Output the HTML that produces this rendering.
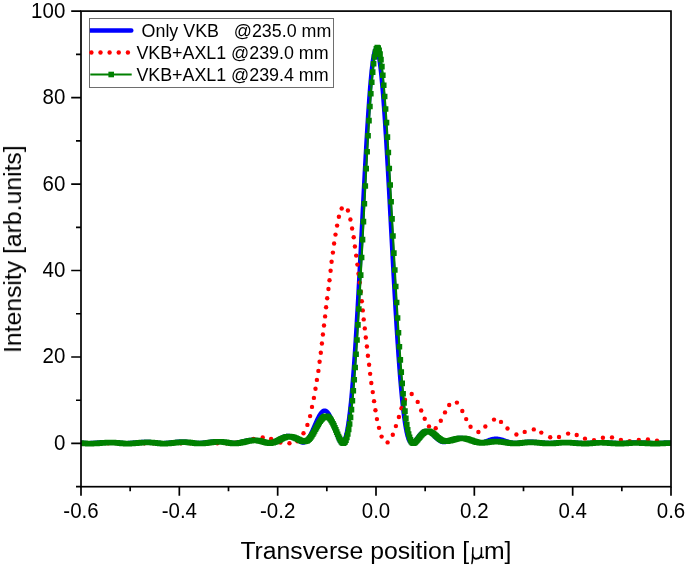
<!DOCTYPE html>
<html><head><meta charset="utf-8"><title>chart</title>
<style>
html,body{margin:0;padding:0;background:#fff;}
svg{display:block;will-change:transform;}
.tx{filter:grayscale(1);}
text{font-family:"Liberation Sans",sans-serif;fill:#000;}
</style></head><body>
<svg width="685" height="567" viewBox="0 0 685 567">
<rect width="685" height="567" fill="#fff"/>
<defs><clipPath id="cp"><rect x="81.0" y="11.1" width="590.0" height="475.59999999999997"/></clipPath></defs>
<g clip-path="url(#cp)">
<path d="M81.00,442.72 L81.49,442.75 L81.98,442.79 L82.47,442.83 L82.97,442.87 L83.46,442.91 L83.95,442.94 L84.44,442.97 L84.93,443.01 L85.43,443.03 L85.92,443.06 L86.41,443.08 L86.90,443.10 L87.39,443.11 L87.88,443.12 L88.38,443.12 L88.87,443.11 L89.36,443.11 L89.85,443.10 L90.34,443.09 L90.83,443.07 L91.33,443.06 L91.82,443.04 L92.31,443.02 L92.80,443.00 L93.29,442.97 L93.78,442.94 L94.28,442.91 L94.77,442.88 L95.26,442.85 L95.75,442.82 L96.24,442.79 L96.73,442.75 L97.23,442.71 L97.72,442.68 L98.21,442.64 L98.70,442.60 L99.19,442.56 L99.68,442.52 L100.18,442.49 L100.67,442.45 L101.16,442.41 L101.65,442.38 L102.14,442.34 L102.63,442.31 L103.13,442.28 L103.62,442.25 L104.11,442.22 L104.60,442.19 L105.09,442.17 L105.58,442.15 L106.08,442.13 L106.57,442.11 L107.06,442.10 L107.55,442.09 L108.04,442.08 L108.53,442.08 L109.03,442.08 L109.52,442.08 L110.01,442.09 L110.50,442.10 L110.99,442.11 L111.48,442.13 L111.98,442.15 L112.47,442.17 L112.96,442.19 L113.45,442.22 L113.94,442.25 L114.43,442.29 L114.93,442.32 L115.42,442.36 L115.91,442.40 L116.40,442.44 L116.89,442.49 L117.38,442.53 L117.87,442.58 L118.37,442.63 L118.86,442.67 L119.35,442.72 L119.84,442.77 L120.33,442.81 L120.82,442.86 L121.32,442.90 L121.81,442.94 L122.30,442.98 L122.79,443.02 L123.28,443.05 L123.77,443.07 L124.27,443.10 L124.76,443.11 L125.25,443.12 L125.74,443.12 L126.23,443.11 L126.72,443.10 L127.22,443.09 L127.71,443.08 L128.20,443.06 L128.69,443.04 L129.18,443.02 L129.68,443.00 L130.17,442.97 L130.66,442.94 L131.15,442.91 L131.64,442.88 L132.13,442.84 L132.62,442.80 L133.12,442.76 L133.61,442.72 L134.10,442.68 L134.59,442.63 L135.08,442.59 L135.57,442.55 L136.07,442.50 L136.56,442.46 L137.05,442.41 L137.54,442.37 L138.03,442.32 L138.53,442.28 L139.02,442.24 L139.51,442.20 L140.00,442.16 L140.49,442.12 L140.98,442.09 L141.47,442.06 L141.97,442.03 L142.46,442.00 L142.95,441.98 L143.44,441.96 L143.93,441.94 L144.43,441.93 L144.92,441.92 L145.41,441.91 L145.90,441.91 L146.39,441.91 L146.88,441.91 L147.38,441.92 L147.87,441.94 L148.36,441.95 L148.85,441.97 L149.34,442.00 L149.83,442.03 L150.33,442.06 L150.82,442.10 L151.31,442.14 L151.80,442.18 L152.29,442.22 L152.78,442.27 L153.28,442.32 L153.77,442.37 L154.26,442.42 L154.75,442.48 L155.24,442.53 L155.73,442.59 L156.23,442.65 L156.72,442.70 L157.21,442.76 L157.70,442.81 L158.19,442.86 L158.68,442.91 L159.18,442.95 L159.67,443.00 L160.16,443.03 L160.65,443.06 L161.14,443.09 L161.63,443.11 L162.13,443.12 L162.62,443.11 L163.11,443.11 L163.60,443.10 L164.09,443.08 L164.58,443.06 L165.08,443.04 L165.57,443.01 L166.06,442.98 L166.55,442.95 L167.04,442.91 L167.53,442.87 L168.02,442.83 L168.52,442.79 L169.01,442.74 L169.50,442.69 L169.99,442.64 L170.48,442.59 L170.97,442.53 L171.47,442.48 L171.96,442.42 L172.45,442.36 L172.94,442.31 L173.43,442.25 L173.93,442.20 L174.42,442.14 L174.91,442.09 L175.40,442.04 L175.89,441.99 L176.38,441.94 L176.88,441.89 L177.37,441.85 L177.86,441.81 L178.35,441.78 L178.84,441.75 L179.33,441.72 L179.82,441.70 L180.32,441.68 L180.81,441.66 L181.30,441.65 L181.79,441.65 L182.28,441.65 L182.78,441.65 L183.27,441.66 L183.76,441.68 L184.25,441.70 L184.74,441.72 L185.23,441.75 L185.72,441.79 L186.22,441.83 L186.71,441.87 L187.20,441.92 L187.69,441.97 L188.18,442.03 L188.68,442.08 L189.17,442.14 L189.66,442.21 L190.15,442.27 L190.64,442.34 L191.13,442.40 L191.62,442.47 L192.12,442.54 L192.61,442.60 L193.10,442.66 L193.59,442.73 L194.08,442.78 L194.57,442.84 L195.07,442.89 L195.56,442.93 L196.05,442.97 L196.54,443.00 L197.03,443.02 L197.53,443.03 L198.02,443.03 L198.51,443.02 L199.00,443.01 L199.49,442.99 L199.98,442.97 L200.48,442.95 L200.97,442.92 L201.46,442.88 L201.95,442.85 L202.44,442.80 L202.93,442.76 L203.43,442.71 L203.92,442.66 L204.41,442.60 L204.90,442.54 L205.39,442.48 L205.88,442.42 L206.38,442.36 L206.87,442.29 L207.36,442.23 L207.85,442.16 L208.34,442.09 L208.83,442.02 L209.33,441.96 L209.82,441.89 L210.31,441.83 L210.80,441.77 L211.29,441.71 L211.78,441.65 L212.28,441.60 L212.77,441.55 L213.26,441.50 L213.75,441.46 L214.24,441.42 L214.73,441.39 L215.23,441.36 L215.72,441.34 L216.21,441.32 L216.70,441.31 L217.19,441.30 L217.68,441.30 L218.18,441.31 L218.67,441.32 L219.16,441.34 L219.65,441.37 L220.14,441.40 L220.63,441.43 L221.13,441.48 L221.62,441.52 L222.11,441.58 L222.60,441.64 L223.09,441.70 L223.58,441.77 L224.07,441.84 L224.57,441.91 L225.06,441.99 L225.55,442.07 L226.04,442.15 L226.53,442.23 L227.03,442.32 L227.52,442.40 L228.01,442.48 L228.50,442.56 L228.99,442.64 L229.48,442.71 L229.97,442.78 L230.47,442.85 L230.96,442.90 L231.45,442.95 L231.94,442.99 L232.43,443.02 L232.93,443.03 L233.42,443.02 L233.91,443.01 L234.40,442.98 L234.89,442.95 L235.38,442.91 L235.88,442.86 L236.37,442.80 L236.86,442.74 L237.35,442.66 L237.84,442.59 L238.33,442.50 L238.83,442.41 L239.32,442.31 L239.81,442.20 L240.30,442.10 L240.79,441.98 L241.28,441.87 L241.78,441.75 L242.27,441.63 L242.76,441.51 L243.25,441.38 L243.74,441.26 L244.23,441.13 L244.73,441.01 L245.22,440.89 L245.71,440.78 L246.20,440.66 L246.69,440.55 L247.18,440.45 L247.68,440.35 L248.17,440.26 L248.66,440.17 L249.15,440.09 L249.64,440.02 L250.13,439.96 L250.63,439.91 L251.12,439.86 L251.61,439.83 L252.10,439.80 L252.59,439.79 L253.08,439.79 L253.58,439.80 L254.07,439.82 L254.56,439.85 L255.05,439.89 L255.54,439.94 L256.03,440.00 L256.52,440.07 L257.02,440.16 L257.51,440.25 L258.00,440.35 L258.49,440.46 L258.98,440.57 L259.48,440.70 L259.97,440.82 L260.46,440.96 L260.95,441.10 L261.44,441.24 L261.93,441.38 L262.43,441.53 L262.92,441.67 L263.41,441.81 L263.90,441.95 L264.39,442.09 L264.88,442.22 L265.38,442.34 L265.87,442.45 L266.36,442.56 L266.85,442.64 L267.34,442.72 L267.83,442.78 L268.32,442.81 L268.82,442.81 L269.31,442.79 L269.80,442.75 L270.29,442.68 L270.78,442.60 L271.27,442.50 L271.77,442.38 L272.26,442.25 L272.75,442.09 L273.24,441.92 L273.73,441.73 L274.23,441.53 L274.72,441.32 L275.21,441.09 L275.70,440.85 L276.19,440.60 L276.68,440.35 L277.18,440.08 L277.67,439.82 L278.16,439.54 L278.65,439.27 L279.14,439.00 L279.63,438.72 L280.12,438.45 L280.62,438.19 L281.11,437.93 L281.60,437.68 L282.09,437.44 L282.58,437.21 L283.08,437.00 L283.57,436.80 L284.06,436.62 L284.55,436.45 L285.04,436.31 L285.53,436.18 L286.02,436.08 L286.52,436.00 L287.01,435.94 L287.50,435.91 L287.99,435.90 L288.48,435.91 L288.98,435.96 L289.47,436.02 L289.96,436.12 L290.45,436.24 L290.94,436.38 L291.43,436.55 L291.92,436.74 L292.42,436.95 L292.91,437.18 L293.40,437.43 L293.89,437.70 L294.38,437.99 L294.88,438.29 L295.37,438.60 L295.86,438.92 L296.35,439.25 L296.84,439.58 L297.33,439.91 L297.82,440.24 L298.32,440.56 L298.81,440.88 L299.30,441.18 L299.79,441.47 L300.28,441.73 L300.77,441.97 L301.27,442.19 L301.76,442.36 L302.25,442.50 L302.74,442.58 L303.23,442.59 L303.73,442.53 L304.22,442.39 L304.71,442.17 L305.20,441.89 L305.69,441.53 L306.18,441.11 L306.68,440.62 L307.17,440.05 L307.66,439.43 L308.15,438.74 L308.64,438.00 L309.13,437.19 L309.62,436.34 L310.12,435.43 L310.61,434.49 L311.10,433.50 L311.59,432.47 L312.08,431.41 L312.58,430.33 L313.07,429.22 L313.56,428.10 L314.05,426.96 L314.54,425.83 L315.03,424.69 L315.52,423.56 L316.02,422.44 L316.51,421.34 L317.00,420.26 L317.49,419.21 L317.98,418.20 L318.48,417.23 L318.97,416.31 L319.46,415.43 L319.95,414.62 L320.44,413.87 L320.93,413.18 L321.43,412.57 L321.92,412.03 L322.41,411.58 L322.90,411.21 L323.39,410.92 L323.88,410.73 L324.38,410.62 L324.87,410.61 L325.36,410.70 L325.85,410.88 L326.34,411.16 L326.83,411.53 L327.33,412.00 L327.82,412.57 L328.31,413.23 L328.80,413.97 L329.29,414.81 L329.78,415.73 L330.28,416.73 L330.77,417.80 L331.26,418.95 L331.75,420.15 L332.24,421.41 L332.73,422.73 L333.23,424.08 L333.72,425.47 L334.21,426.88 L334.70,428.30 L335.19,429.73 L335.68,431.16 L336.18,432.56 L336.67,433.94 L337.16,435.28 L337.65,436.57 L338.14,437.79 L338.63,438.93 L339.13,439.97 L339.62,440.90 L340.11,441.70 L340.60,442.35 L341.09,442.82 L341.58,443.01 L342.08,443.02 L342.57,442.85 L343.06,442.51 L343.55,441.96 L344.04,441.21 L344.53,440.23 L345.03,439.02 L345.52,437.56 L346.01,435.85 L346.50,433.86 L346.99,431.60 L347.48,429.05 L347.98,426.21 L348.47,423.06 L348.96,419.61 L349.45,415.84 L349.94,411.76 L350.43,407.36 L350.93,402.64 L351.42,397.59 L351.91,392.23 L352.40,386.55 L352.89,380.55 L353.38,374.25 L353.88,367.64 L354.37,360.74 L354.86,353.55 L355.35,346.09 L355.84,338.36 L356.33,330.38 L356.83,322.16 L357.32,313.73 L357.81,305.09 L358.30,296.26 L358.79,287.27 L359.28,278.12 L359.78,268.86 L360.27,259.48 L360.76,250.03 L361.25,240.52 L361.74,230.97 L362.23,221.41 L362.73,211.87 L363.22,202.37 L363.71,192.94 L364.20,183.61 L364.69,174.39 L365.18,165.32 L365.68,156.42 L366.17,147.72 L366.66,139.24 L367.15,131.01 L367.64,123.06 L368.13,115.40 L368.62,108.07 L369.12,101.08 L369.61,94.45 L370.10,88.21 L370.59,82.38 L371.08,76.96 L371.57,71.99 L372.07,67.48 L372.56,63.43 L373.05,59.87 L373.54,56.81 L374.03,54.25 L374.52,52.20 L375.02,50.67 L375.51,49.67 L376.00,49.19 L376.49,49.24 L376.98,49.77 L377.48,50.80 L377.97,52.31 L378.46,54.30 L378.95,56.76 L379.44,59.70 L379.93,63.08 L380.43,66.92 L380.92,71.20 L381.41,75.89 L381.90,81.00 L382.39,86.51 L382.88,92.39 L383.38,98.64 L383.87,105.23 L384.36,112.15 L384.85,119.37 L385.34,126.88 L385.83,134.65 L386.33,142.67 L386.82,150.91 L387.31,159.34 L387.80,167.95 L388.29,176.72 L388.78,185.61 L389.28,194.61 L389.77,203.69 L390.26,212.83 L390.75,222.00 L391.24,231.19 L391.73,240.37 L392.23,249.52 L392.72,258.61 L393.21,267.64 L393.70,276.56 L394.19,285.38 L394.68,294.06 L395.18,302.59 L395.67,310.96 L396.16,319.14 L396.65,327.12 L397.14,334.89 L397.63,342.43 L398.13,349.74 L398.62,356.79 L399.11,363.59 L399.60,370.11 L400.09,376.37 L400.58,382.34 L401.08,388.02 L401.57,393.41 L402.06,398.51 L402.55,403.31 L403.04,407.81 L403.53,412.02 L404.03,415.93 L404.52,419.55 L405.01,422.89 L405.50,425.93 L405.99,428.70 L406.48,431.19 L406.98,433.42 L407.47,435.39 L407.96,437.10 L408.45,438.58 L408.94,439.82 L409.43,440.85 L409.93,441.66 L410.42,442.27 L410.91,442.70 L411.40,442.95 L411.89,443.03 L412.38,442.95 L412.88,442.72 L413.37,442.40 L413.86,442.01 L414.35,441.55 L414.84,441.03 L415.33,440.48 L415.83,439.89 L416.32,439.28 L416.81,438.65 L417.30,438.01 L417.79,437.36 L418.28,436.73 L418.78,436.10 L419.27,435.49 L419.76,434.91 L420.25,434.35 L420.74,433.82 L421.23,433.33 L421.73,432.88 L422.22,432.46 L422.71,432.10 L423.20,431.78 L423.69,431.51 L424.18,431.29 L424.68,431.12 L425.17,431.01 L425.66,430.94 L426.15,430.93 L426.64,430.96 L427.13,431.04 L427.62,431.17 L428.12,431.35 L428.61,431.56 L429.10,431.82 L429.59,432.11 L430.08,432.44 L430.57,432.80 L431.07,433.19 L431.56,433.60 L432.05,434.04 L432.54,434.49 L433.03,434.96 L433.53,435.43 L434.02,435.91 L434.51,436.40 L435.00,436.88 L435.49,437.36 L435.98,437.83 L436.48,438.29 L436.97,438.74 L437.46,439.17 L437.95,439.58 L438.44,439.97 L438.93,440.33 L439.43,440.66 L439.92,440.96 L440.41,441.24 L440.90,441.48 L441.39,441.68 L441.88,441.85 L442.38,441.99 L442.87,442.08 L443.36,442.14 L443.85,442.17 L444.34,442.16 L444.83,442.12 L445.33,442.04 L445.82,441.94 L446.31,441.82 L446.80,441.69 L447.29,441.54 L447.78,441.37 L448.28,441.20 L448.77,441.01 L449.26,440.82 L449.75,440.63 L450.24,440.43 L450.73,440.23 L451.23,440.03 L451.72,439.83 L452.21,439.64 L452.70,439.45 L453.19,439.27 L453.68,439.09 L454.18,438.92 L454.67,438.76 L455.16,438.61 L455.65,438.48 L456.14,438.35 L456.63,438.24 L457.13,438.14 L457.62,438.06 L458.11,437.98 L458.60,437.93 L459.09,437.89 L459.58,437.86 L460.08,437.84 L460.57,437.85 L461.06,437.86 L461.55,437.89 L462.04,437.93 L462.53,437.99 L463.03,438.06 L463.52,438.14 L464.01,438.24 L464.50,438.34 L464.99,438.46 L465.48,438.59 L465.98,438.72 L466.47,438.86 L466.96,439.01 L467.45,439.17 L467.94,439.33 L468.43,439.50 L468.93,439.67 L469.42,439.84 L469.91,440.01 L470.40,440.19 L470.89,440.36 L471.38,440.54 L471.88,440.71 L472.37,440.88 L472.86,441.04 L473.35,441.20 L473.84,441.35 L474.33,441.50 L474.83,441.64 L475.32,441.78 L475.81,441.90 L476.30,442.02 L476.79,442.12 L477.28,442.22 L477.78,442.31 L478.27,442.38 L478.76,442.45 L479.25,442.50 L479.74,442.54 L480.23,442.57 L480.73,442.59 L481.22,442.59 L481.71,442.55 L482.20,442.48 L482.69,442.38 L483.18,442.26 L483.68,442.12 L484.17,441.97 L484.66,441.80 L485.15,441.62 L485.64,441.44 L486.13,441.25 L486.63,441.06 L487.12,440.87 L487.61,440.67 L488.10,440.48 L488.59,440.29 L489.08,440.11 L489.58,439.93 L490.07,439.76 L490.56,439.60 L491.05,439.46 L491.54,439.32 L492.03,439.19 L492.52,439.08 L493.02,438.98 L493.51,438.90 L494.00,438.83 L494.49,438.78 L494.98,438.74 L495.48,438.72 L495.97,438.71 L496.46,438.72 L496.95,438.74 L497.44,438.77 L497.93,438.83 L498.43,438.89 L498.92,438.97 L499.41,439.06 L499.90,439.16 L500.39,439.28 L500.88,439.40 L501.38,439.53 L501.87,439.67 L502.36,439.82 L502.85,439.97 L503.34,440.13 L503.83,440.29 L504.32,440.46 L504.82,440.63 L505.31,440.80 L505.80,440.97 L506.29,441.13 L506.78,441.30 L507.28,441.46 L507.77,441.62 L508.26,441.77 L508.75,441.91 L509.24,442.05 L509.73,442.18 L510.23,442.30 L510.72,442.42 L511.21,442.52 L511.70,442.61 L512.19,442.70 L512.68,442.77 L513.17,442.83 L513.67,442.87 L514.16,442.91 L514.65,442.93 L515.14,442.94 L515.63,442.94 L516.12,442.92 L516.62,442.89 L517.11,442.86 L517.60,442.82 L518.09,442.77 L518.58,442.73 L519.08,442.67 L519.57,442.62 L520.06,442.56 L520.55,442.51 L521.04,442.45 L521.53,442.39 L522.03,442.33 L522.52,442.27 L523.01,442.22 L523.50,442.16 L523.99,442.11 L524.48,442.06 L524.98,442.01 L525.47,441.97 L525.96,441.92 L526.45,441.89 L526.94,441.85 L527.43,441.82 L527.92,441.80 L528.42,441.78 L528.91,441.76 L529.40,441.75 L529.89,441.74 L530.38,441.73 L530.88,441.74 L531.37,441.74 L531.86,441.75 L532.35,441.76 L532.84,441.78 L533.33,441.80 L533.83,441.83 L534.32,441.86 L534.81,441.89 L535.30,441.92 L535.79,441.96 L536.28,442.00 L536.78,442.04 L537.27,442.09 L537.76,442.14 L538.25,442.18 L538.74,442.23 L539.23,442.28 L539.73,442.33 L540.22,442.38 L540.71,442.43 L541.20,442.48 L541.69,442.53 L542.18,442.58 L542.68,442.63 L543.17,442.67 L543.66,442.71 L544.15,442.75 L544.64,442.79 L545.13,442.83 L545.62,442.86 L546.12,442.90 L546.61,442.92 L547.10,442.95 L547.59,442.97 L548.08,442.99 L548.58,443.01 L549.07,443.02 L549.56,443.03 L550.05,443.03 L550.54,443.03 L551.03,443.02 L551.53,443.00 L552.02,442.98 L552.51,442.95 L553.00,442.92 L553.49,442.88 L553.98,442.84 L554.48,442.80 L554.97,442.76 L555.46,442.71 L555.95,442.67 L556.44,442.62 L556.93,442.57 L557.42,442.53 L557.92,442.48 L558.41,442.44 L558.90,442.40 L559.39,442.36 L559.88,442.32 L560.38,442.28 L560.87,442.25 L561.36,442.22 L561.85,442.19 L562.34,442.16 L562.83,442.14 L563.33,442.12 L563.82,442.11 L564.31,442.09 L564.80,442.09 L565.29,442.08 L565.78,442.08 L566.27,442.08 L566.77,442.09 L567.26,442.10 L567.75,442.11 L568.24,442.13 L568.73,442.14 L569.23,442.17 L569.72,442.19 L570.21,442.22 L570.70,442.25 L571.19,442.28 L571.68,442.31 L572.17,442.34 L572.67,442.38 L573.16,442.42 L573.65,442.46 L574.14,442.50 L574.63,442.54 L575.12,442.58 L575.62,442.62 L576.11,442.66 L576.60,442.70 L577.09,442.73 L577.58,442.77 L578.08,442.81 L578.57,442.84 L579.06,442.88 L579.55,442.91 L580.04,442.94 L580.53,442.97 L581.03,443.00 L581.52,443.02 L582.01,443.04 L582.50,443.06 L582.99,443.08 L583.48,443.09 L583.98,443.10 L584.47,443.11 L584.96,443.12 L585.45,443.12 L585.94,443.11 L586.43,443.10 L586.92,443.08 L587.42,443.05 L587.91,443.02 L588.40,442.99 L588.89,442.96 L589.38,442.92 L589.88,442.88 L590.37,442.84 L590.86,442.80 L591.35,442.76 L591.84,442.72 L592.33,442.67 L592.83,442.63 L593.32,442.59 L593.81,442.55 L594.30,442.52 L594.79,442.48 L595.28,442.45 L595.77,442.42 L596.27,442.39 L596.76,442.36 L597.25,442.34 L597.74,442.32 L598.23,442.30 L598.73,442.28 L599.22,442.27 L599.71,442.26 L600.20,442.26 L600.69,442.25 L601.18,442.25 L601.67,442.26 L602.17,442.26 L602.66,442.27 L603.15,442.29 L603.64,442.30 L604.13,442.32 L604.62,442.34 L605.12,442.36 L605.61,442.38 L606.10,442.41 L606.59,442.44 L607.08,442.47 L607.57,442.50 L608.07,442.53 L608.56,442.56 L609.05,442.59 L609.54,442.63 L610.03,442.66 L610.52,442.69 L611.02,442.73 L611.51,442.76 L612.00,442.79 L612.49,442.82 L612.98,442.86 L613.48,442.89 L613.97,442.91 L614.46,442.94 L614.95,442.97 L615.44,442.99 L615.93,443.01 L616.42,443.03 L616.92,443.05 L617.41,443.07 L617.90,443.08 L618.39,443.09 L618.88,443.10 L619.38,443.11 L619.87,443.12 L620.36,443.12 L620.85,443.12 L621.34,443.11 L621.83,443.09 L622.33,443.08 L622.82,443.05 L623.31,443.03 L623.80,443.00 L624.29,442.97 L624.78,442.94 L625.27,442.91 L625.77,442.88 L626.26,442.85 L626.75,442.81 L627.24,442.78 L627.73,442.75 L628.23,442.71 L628.72,442.68 L629.21,442.65 L629.70,442.62 L630.19,442.59 L630.68,442.57 L631.17,442.54 L631.67,442.52 L632.16,442.50 L632.65,442.48 L633.14,442.47 L633.63,442.45 L634.12,442.44 L634.62,442.44 L635.11,442.43 L635.60,442.43 L636.09,442.43 L636.58,442.43 L637.08,442.43 L637.57,442.44 L638.06,442.45 L638.55,442.46 L639.04,442.47 L639.53,442.49 L640.02,442.50 L640.52,442.52 L641.01,442.54 L641.50,442.56 L641.99,442.58 L642.48,442.61 L642.98,442.63 L643.47,442.66 L643.96,442.68 L644.45,442.71 L644.94,442.74 L645.43,442.76 L645.92,442.79 L646.42,442.82 L646.91,442.84 L647.40,442.87 L647.89,442.90 L648.38,442.92 L648.88,442.94 L649.37,442.97 L649.86,442.99 L650.35,443.01 L650.84,443.03 L651.33,443.04 L651.83,443.06 L652.32,443.07 L652.81,443.08 L653.30,443.09 L653.79,443.10 L654.28,443.11 L654.77,443.11 L655.27,443.12 L655.76,443.12 L656.25,443.11 L656.74,443.11 L657.23,443.09 L657.73,443.08 L658.22,443.06 L658.71,443.04 L659.20,443.02 L659.69,443.00 L660.18,442.97 L660.68,442.95 L661.17,442.92 L661.66,442.90 L662.15,442.87 L662.64,442.85 L663.13,442.82 L663.62,442.80 L664.12,442.78 L664.61,442.75 L665.10,442.73 L665.59,442.71 L666.08,442.69 L666.58,442.68 L667.07,442.66 L667.56,442.65 L668.05,442.63 L668.54,442.62 L669.03,442.61 L669.52,442.61 L670.02,442.60 L670.51,442.60 L671.00,442.60" fill="none" stroke="#0000ff" stroke-width="4.4" stroke-linejoin="round" stroke-linecap="round"/>
<g fill="#ff0000"><circle cx="253.60" cy="438.90" r="2.2"/><circle cx="244.50" cy="441.20" r="2.2"/><circle cx="235.40" cy="442.80" r="2.2"/><circle cx="226.40" cy="443.30" r="2.2"/><circle cx="217.30" cy="443.30" r="2.2"/><circle cx="208.20" cy="443.30" r="2.2"/><circle cx="199.10" cy="443.30" r="2.2"/><circle cx="190.00" cy="443.30" r="2.2"/><circle cx="180.90" cy="443.30" r="2.2"/><circle cx="171.80" cy="443.30" r="2.2"/><circle cx="162.70" cy="443.30" r="2.2"/><circle cx="153.60" cy="443.30" r="2.2"/><circle cx="144.50" cy="443.30" r="2.2"/><circle cx="135.40" cy="443.30" r="2.2"/><circle cx="126.30" cy="443.30" r="2.2"/><circle cx="117.20" cy="443.30" r="2.2"/><circle cx="108.10" cy="443.30" r="2.2"/><circle cx="99.00" cy="443.30" r="2.2"/><circle cx="89.90" cy="443.30" r="2.2"/><circle cx="262.70" cy="437.50" r="2.2"/><circle cx="271.10" cy="438.90" r="2.2"/><circle cx="280.40" cy="442.50" r="2.2"/><circle cx="289.45" cy="443.30" r="2.2"/><circle cx="297.40" cy="441.20" r="2.2"/><circle cx="303.50" cy="433.20" r="2.2"/><circle cx="307.40" cy="424.90" r="2.2"/><circle cx="310.10" cy="416.10" r="2.2"/><circle cx="312.00" cy="406.90" r="2.2"/><circle cx="313.90" cy="397.90" r="2.2"/><circle cx="315.50" cy="388.80" r="2.2"/><circle cx="316.90" cy="379.90" r="2.2"/><circle cx="318.40" cy="370.90" r="2.2"/><circle cx="319.60" cy="361.75" r="2.2"/><circle cx="320.80" cy="352.70" r="2.2"/><circle cx="321.90" cy="343.50" r="2.2"/><circle cx="322.90" cy="334.50" r="2.2"/><circle cx="324.00" cy="325.50" r="2.2"/><circle cx="325.10" cy="316.40" r="2.2"/><circle cx="326.10" cy="307.20" r="2.2"/><circle cx="327.20" cy="298.20" r="2.2"/><circle cx="328.45" cy="289.00" r="2.2"/><circle cx="329.50" cy="280.20" r="2.2"/><circle cx="330.60" cy="270.80" r="2.2"/><circle cx="331.60" cy="261.80" r="2.2"/><circle cx="332.90" cy="252.60" r="2.2"/><circle cx="334.10" cy="243.50" r="2.2"/><circle cx="335.50" cy="234.60" r="2.2"/><circle cx="337.10" cy="225.60" r="2.2"/><circle cx="338.90" cy="216.80" r="2.2"/><circle cx="341.70" cy="208.50" r="2.2"/><circle cx="347.90" cy="210.50" r="2.2"/><circle cx="350.40" cy="219.50" r="2.2"/><circle cx="352.10" cy="228.50" r="2.2"/><circle cx="353.70" cy="237.30" r="2.2"/><circle cx="354.90" cy="246.50" r="2.2"/><circle cx="356.20" cy="255.60" r="2.2"/><circle cx="357.40" cy="264.60" r="2.2"/><circle cx="358.50" cy="273.80" r="2.2"/><circle cx="359.70" cy="282.60" r="2.2"/><circle cx="360.80" cy="291.80" r="2.2"/><circle cx="361.80" cy="301.20" r="2.2"/><circle cx="362.80" cy="310.40" r="2.2"/><circle cx="363.70" cy="319.40" r="2.2"/><circle cx="364.80" cy="328.40" r="2.2"/><circle cx="365.80" cy="337.50" r="2.2"/><circle cx="366.90" cy="346.50" r="2.2"/><circle cx="367.90" cy="355.70" r="2.2"/><circle cx="369.10" cy="364.75" r="2.2"/><circle cx="370.15" cy="373.85" r="2.2"/><circle cx="371.30" cy="382.95" r="2.2"/><circle cx="372.75" cy="392.10" r="2.2"/><circle cx="374.05" cy="401.15" r="2.2"/><circle cx="375.45" cy="410.20" r="2.2"/><circle cx="376.95" cy="419.10" r="2.2"/><circle cx="379.00" cy="427.85" r="2.2"/><circle cx="381.60" cy="436.60" r="2.2"/><circle cx="387.60" cy="442.40" r="2.2"/><circle cx="392.80" cy="434.80" r="2.2"/><circle cx="395.90" cy="426.10" r="2.2"/><circle cx="398.90" cy="417.00" r="2.2"/><circle cx="401.50" cy="408.20" r="2.2"/><circle cx="405.00" cy="399.80" r="2.2"/><circle cx="411.70" cy="394.00" r="2.2"/><circle cx="417.70" cy="401.90" r="2.2"/><circle cx="421.20" cy="410.50" r="2.2"/><circle cx="424.70" cy="418.70" r="2.2"/><circle cx="429.00" cy="426.40" r="2.2"/><circle cx="435.70" cy="428.20" r="2.2"/><circle cx="440.80" cy="420.80" r="2.2"/><circle cx="445.00" cy="412.40" r="2.2"/><circle cx="449.20" cy="405.00" r="2.2"/><circle cx="456.90" cy="402.60" r="2.2"/><circle cx="462.30" cy="411.00" r="2.2"/><circle cx="466.20" cy="419.10" r="2.2"/><circle cx="470.55" cy="426.80" r="2.2"/><circle cx="478.40" cy="432.00" r="2.2"/><circle cx="485.35" cy="426.50" r="2.2"/><circle cx="494.00" cy="419.60" r="2.2"/><circle cx="501.00" cy="421.90" r="2.2"/><circle cx="507.50" cy="428.50" r="2.2"/><circle cx="516.40" cy="434.50" r="2.2"/><circle cx="524.70" cy="431.90" r="2.2"/><circle cx="533.80" cy="429.40" r="2.2"/><circle cx="541.30" cy="432.60" r="2.2"/><circle cx="550.20" cy="437.30" r="2.2"/><circle cx="559.00" cy="437.00" r="2.2"/><circle cx="568.10" cy="433.60" r="2.2"/><circle cx="576.70" cy="434.95" r="2.2"/><circle cx="585.00" cy="438.65" r="2.2"/><circle cx="594.00" cy="440.30" r="2.2"/><circle cx="602.90" cy="437.80" r="2.2"/><circle cx="612.00" cy="437.40" r="2.2"/><circle cx="620.90" cy="440.00" r="2.2"/><circle cx="629.60" cy="441.10" r="2.2"/><circle cx="638.80" cy="440.00" r="2.2"/><circle cx="647.90" cy="439.40" r="2.2"/><circle cx="657.00" cy="440.80" r="2.2"/></g>
<path d="M81.37,443.13 L82.29,443.20 L83.21,443.27 L84.13,443.35 L85.06,443.41 L85.98,443.48 L86.90,443.53 L87.82,443.58 L88.74,443.61 L89.67,443.62 L90.59,443.61 L91.51,443.59 L92.43,443.57 L93.35,443.54 L94.28,443.49 L95.20,443.45 L96.12,443.39 L97.04,443.33 L97.96,443.27 L98.88,443.20 L99.81,443.13 L100.73,443.06 L101.65,442.99 L102.57,442.92 L103.49,442.85 L104.42,442.79 L105.34,442.73 L106.26,442.69 L107.18,442.64 L108.10,442.61 L109.03,442.59 L109.95,442.58 L110.87,442.58 L111.79,442.59 L112.71,442.62 L113.63,442.65 L114.56,442.70 L115.48,442.76 L116.40,442.82 L117.32,442.90 L118.24,442.98 L119.17,443.06 L120.09,443.15 L121.01,443.24 L121.93,443.33 L122.85,443.41 L123.78,443.48 L124.70,443.54 L125.62,443.59 L126.54,443.62 L127.46,443.61 L128.38,443.60 L129.31,443.58 L130.23,443.54 L131.15,443.50 L132.07,443.44 L132.99,443.38 L133.92,443.32 L134.84,443.24 L135.76,443.16 L136.68,443.08 L137.60,443.00 L138.52,442.91 L139.45,442.83 L140.37,442.75 L141.29,442.67 L142.21,442.61 L143.13,442.55 L144.06,442.49 L144.98,442.45 L145.90,442.43 L146.82,442.41 L147.74,442.41 L148.67,442.42 L149.59,442.44 L150.51,442.48 L151.43,442.54 L152.35,442.60 L153.27,442.68 L154.20,442.76 L155.12,442.86 L156.04,442.96 L156.96,443.06 L157.88,443.17 L158.81,443.27 L159.73,443.37 L160.65,443.45 L161.57,443.53 L162.49,443.58 L163.42,443.62 L164.34,443.61 L165.26,443.59 L166.18,443.56 L167.10,443.51 L168.02,443.45 L168.95,443.38 L169.87,443.30 L170.79,443.21 L171.71,443.11 L172.63,443.01 L173.56,442.91 L174.48,442.80 L175.40,442.69 L176.32,442.59 L177.24,442.50 L178.17,442.41 L179.09,442.33 L180.01,442.27 L180.93,442.21 L181.85,442.17 L182.77,442.15 L183.70,442.15 L184.62,442.16 L185.54,442.19 L186.46,442.24 L187.38,442.30 L188.31,442.38 L189.23,442.48 L190.15,442.58 L191.07,442.70 L191.99,442.82 L192.92,442.94 L193.84,443.07 L194.76,443.19 L195.68,443.30 L196.60,443.39 L197.52,443.47 L198.45,443.52 L199.37,443.53 L200.29,443.51 L201.21,443.48 L202.13,443.43 L203.06,443.37 L203.98,443.29 L204.90,443.20 L205.82,443.10 L206.74,442.99 L207.67,442.87 L208.59,442.75 L209.51,442.62 L210.43,442.50 L211.35,442.38 L212.27,442.26 L213.20,442.15 L214.12,442.05 L215.04,441.97 L215.96,441.90 L216.88,441.85 L217.81,441.82 L218.73,441.80 L219.65,441.81 L220.57,441.84 L221.49,441.88 L222.42,441.95 L223.34,442.04 L224.26,442.15 L225.18,442.27 L226.10,442.40 L227.03,442.54 L227.95,442.69 L228.87,442.83 L229.79,442.98 L230.71,443.11 L231.63,443.24 L232.56,443.34 L233.48,443.41 L234.40,443.44 L235.32,443.42 L236.24,443.37 L237.17,443.29 L238.09,443.18 L239.01,443.05 L239.93,442.90 L240.85,442.73 L241.77,442.54 L242.70,442.34 L243.62,442.12 L244.54,441.91 L245.46,441.69 L246.38,441.47 L247.31,441.27 L248.23,441.07 L249.15,440.89 L250.07,440.74 L250.99,440.61 L251.92,440.50 L252.84,440.43 L253.76,440.38 L254.68,440.38 L255.60,440.40 L256.52,440.47 L257.45,440.56 L258.37,440.69 L259.29,440.85 L260.21,441.04 L261.13,441.25 L262.06,441.47 L262.98,441.71 L263.90,441.95 L264.82,442.20 L265.74,442.43 L266.67,442.64 L267.59,442.83 L268.51,442.98 L269.43,443.08 L270.35,443.08 L271.27,442.98 L272.20,442.82 L273.12,442.59 L274.04,442.32 L274.96,441.99 L275.88,441.61 L276.81,441.20 L277.73,440.76 L278.65,440.31 L279.57,439.84 L280.49,439.37 L281.42,438.91 L282.34,438.47 L283.26,438.05 L284.18,437.68 L285.10,437.35 L286.02,437.07 L286.95,436.86 L287.87,436.71 L288.79,436.63 L289.71,436.62 L290.63,436.68 L291.56,436.81 L292.48,437.01 L293.40,437.27 L294.32,437.59 L295.24,437.96 L296.17,438.36 L297.09,438.79 L298.01,439.23 L298.93,439.67 L299.85,440.10 L300.77,440.50 L301.70,440.84 L302.62,441.12 L303.54,441.31 L304.46,441.37 L305.38,441.31 L306.31,441.05 L307.23,440.59 L308.15,439.94 L309.07,439.10 L309.99,438.08 L310.92,436.91 L311.84,435.59 L312.76,434.15 L313.68,432.60 L314.60,430.98 L315.52,429.32 L316.45,427.63 L317.37,425.96 L318.29,424.33 L319.21,422.77 L320.13,421.32 L321.06,420.00 L321.98,418.84 L322.90,417.87 L323.82,417.12 L324.74,416.60 L325.67,416.33 L326.59,416.32 L327.51,416.59 L328.43,417.13 L329.35,417.95 L330.28,419.03 L331.20,420.37 L332.12,421.93 L333.04,423.71 L333.96,425.65 L334.88,427.73 L335.81,429.91 L336.73,432.12 L337.65,434.32 L338.57,436.44 L339.49,438.41 L340.42,440.17 L341.34,441.63 L342.26,442.67 L343.18,443.11 L344.10,442.81 L345.03,441.84 L345.95,440.10 L346.87,437.52 L347.79,434.02 L348.71,429.53 L349.63,424.01 L350.56,417.39 L351.48,409.66 L352.40,400.80 L353.32,390.80 L354.24,379.69 L355.17,367.48 L356.09,354.23 L357.01,340.00 L357.93,324.87 L358.85,308.94 L359.78,292.33 L360.70,275.14 L361.62,257.53 L362.54,239.65 L363.46,221.64 L364.38,203.69 L365.31,185.95 L366.23,168.60 L367.15,151.82 L368.07,135.77 L368.99,120.63 L369.92,106.55 L370.84,93.69 L371.76,82.18 L372.68,72.15 L373.60,63.72 L374.52,56.98 L375.45,51.99 L376.37,48.83 L377.29,47.52 L378.21,48.03 L379.13,50.23 L380.06,54.10 L380.98,59.59 L381.90,66.66 L382.82,75.23 L383.74,85.21 L384.67,96.51 L385.59,109.01 L386.51,122.59 L387.43,137.11 L388.35,152.44 L389.28,168.44 L390.20,184.94 L391.12,201.82 L392.04,218.90 L392.96,236.05 L393.88,253.13 L394.81,269.98 L395.73,286.49 L396.65,302.53 L397.57,317.99 L398.49,332.76 L399.42,346.76 L400.34,359.90 L401.26,372.14 L402.18,383.41 L403.10,393.68 L404.03,402.93 L404.95,411.15 L405.87,418.34 L406.79,424.52 L407.71,429.72 L408.63,433.98 L409.56,437.35 L410.48,439.87 L411.40,441.63 L412.32,442.67 L413.24,443.09 L414.17,442.94 L415.09,442.38 L416.01,441.56 L416.93,440.57 L417.85,439.47 L418.78,438.32 L419.70,437.15 L420.62,436.01 L421.54,434.95 L422.46,433.97 L423.38,433.13 L424.31,432.42 L425.23,431.87 L426.15,431.48 L427.07,431.26 L427.99,431.21 L428.92,431.32 L429.84,431.58 L430.76,431.97 L431.68,432.48 L432.60,433.10 L433.53,433.79 L434.45,434.55 L435.37,435.34 L436.29,436.15 L437.21,436.95 L438.13,437.72 L439.06,438.46 L439.98,439.12 L440.90,439.72 L441.82,440.22 L442.74,440.62 L443.67,440.91 L444.59,441.10 L445.51,441.17 L446.43,441.16 L447.35,441.10 L448.28,440.99 L449.20,440.82 L450.12,440.61 L451.04,440.38 L451.96,440.13 L452.88,439.86 L453.81,439.60 L454.73,439.34 L455.65,439.09 L456.57,438.87 L457.49,438.68 L458.42,438.51 L459.34,438.39 L460.26,438.30 L461.18,438.26 L462.10,438.26 L463.03,438.31 L463.95,438.40 L464.87,438.53 L465.79,438.71 L466.71,438.91 L467.63,439.16 L468.56,439.42 L469.48,439.71 L470.40,440.02 L471.32,440.33 L472.24,440.65 L473.17,440.97 L474.09,441.28 L475.01,441.58 L475.93,441.85 L476.85,442.10 L477.78,442.32 L478.70,442.51 L479.62,442.66 L480.54,442.77 L481.46,442.84 L482.38,442.83 L483.31,442.78 L484.23,442.71 L485.15,442.62 L486.07,442.51 L486.99,442.40 L487.92,442.28 L488.84,442.16 L489.76,442.04 L490.68,441.93 L491.60,441.83 L492.52,441.75 L493.45,441.68 L494.37,441.63 L495.29,441.60 L496.21,441.59 L497.13,441.60 L498.06,441.63 L498.98,441.67 L499.90,441.74 L500.82,441.83 L501.74,441.93 L502.67,442.04 L503.59,442.17 L504.51,442.30 L505.43,442.43 L506.35,442.57 L507.28,442.71 L508.20,442.84 L509.12,442.96 L510.04,443.08 L510.96,443.18 L511.88,443.27 L512.81,443.34 L513.73,443.40 L514.65,443.43 L515.57,443.44 L516.49,443.40 L517.42,443.34 L518.34,443.27 L519.26,443.18 L520.18,443.08 L521.10,442.98 L522.03,442.88 L522.95,442.78 L523.87,442.68 L524.79,442.59 L525.71,442.52 L526.63,442.45 L527.56,442.40 L528.48,442.36 L529.40,442.33 L530.32,442.32 L531.24,442.32 L532.17,442.34 L533.09,442.37 L534.01,442.42 L534.93,442.47 L535.85,442.54 L536.78,442.61 L537.70,442.69 L538.62,442.77 L539.54,442.86 L540.46,442.95 L541.38,443.03 L542.31,443.12 L543.23,443.20 L544.15,443.27 L545.07,443.34 L545.99,443.40 L546.92,443.45 L547.84,443.48 L548.76,443.51 L549.68,443.53 L550.60,443.53 L551.52,443.50 L552.45,443.45 L553.37,443.39 L554.29,443.32 L555.21,443.23 L556.13,443.15 L557.06,443.06 L557.98,442.98 L558.90,442.90 L559.82,442.82 L560.74,442.75 L561.67,442.70 L562.59,442.65 L563.51,442.61 L564.43,442.59 L565.35,442.58 L566.27,442.58 L567.20,442.60 L568.12,442.62 L569.04,442.66 L569.96,442.70 L570.88,442.76 L571.81,442.82 L572.73,442.89 L573.65,442.96 L574.57,443.03 L575.49,443.11 L576.42,443.18 L577.34,443.25 L578.26,443.32 L579.18,443.39 L580.10,443.44 L581.02,443.50 L581.95,443.54 L582.87,443.57 L583.79,443.60 L584.71,443.61 L585.63,443.62 L586.56,443.59 L587.48,443.55 L588.40,443.49 L589.32,443.42 L590.24,443.35 L591.17,443.27 L592.09,443.19 L593.01,443.12 L593.93,443.04 L594.85,442.98 L595.77,442.92 L596.70,442.86 L597.62,442.82 L598.54,442.79 L599.46,442.77 L600.38,442.75 L601.31,442.75 L602.23,442.76 L603.15,442.79 L604.07,442.82 L604.99,442.85 L605.92,442.90 L606.84,442.95 L607.76,443.01 L608.68,443.07 L609.60,443.13 L610.52,443.19 L611.45,443.26 L612.37,443.32 L613.29,443.37 L614.21,443.43 L615.13,443.48 L616.06,443.52 L616.98,443.55 L617.90,443.58 L618.82,443.60 L619.74,443.61 L620.67,443.62 L621.59,443.60 L622.51,443.57 L623.43,443.52 L624.35,443.47 L625.27,443.41 L626.20,443.35 L627.12,443.29 L628.04,443.23 L628.96,443.17 L629.88,443.11 L630.81,443.06 L631.73,443.02 L632.65,442.98 L633.57,442.96 L634.49,442.94 L635.42,442.93 L636.34,442.93 L637.26,442.93 L638.18,442.95 L639.10,442.97 L640.02,443.00 L640.95,443.04 L641.87,443.08 L642.79,443.12 L643.71,443.17 L644.63,443.22 L645.56,443.27 L646.48,443.32 L647.40,443.37 L648.32,443.42 L649.24,443.46 L650.17,443.50 L651.09,443.53 L652.01,443.56 L652.93,443.59 L653.85,443.60 L654.77,443.61 L655.70,443.62 L656.62,443.61 L657.54,443.58 L658.46,443.55 L659.38,443.51 L660.31,443.47 L661.23,443.42 L662.15,443.37 L663.07,443.33 L663.99,443.28 L664.92,443.24 L665.84,443.20 L666.76,443.17 L667.68,443.14 L668.60,443.12 L669.52,443.11 L670.45,443.10 L671.37,443.10" fill="none" stroke="#008000" stroke-width="2.2" stroke-linejoin="round"/>
<path d="M78.57,440.33h5.6v5.6h-5.6zM79.49,440.40h5.6v5.6h-5.6zM80.41,440.47h5.6v5.6h-5.6zM81.33,440.55h5.6v5.6h-5.6zM82.26,440.61h5.6v5.6h-5.6zM83.18,440.68h5.6v5.6h-5.6zM84.10,440.73h5.6v5.6h-5.6zM85.02,440.78h5.6v5.6h-5.6zM85.94,440.81h5.6v5.6h-5.6zM86.87,440.82h5.6v5.6h-5.6zM87.79,440.81h5.6v5.6h-5.6zM88.71,440.79h5.6v5.6h-5.6zM89.63,440.77h5.6v5.6h-5.6zM90.55,440.74h5.6v5.6h-5.6zM91.48,440.70h5.6v5.6h-5.6zM92.40,440.65h5.6v5.6h-5.6zM93.32,440.59h5.6v5.6h-5.6zM94.24,440.53h5.6v5.6h-5.6zM95.16,440.47h5.6v5.6h-5.6zM96.08,440.40h5.6v5.6h-5.6zM97.01,440.33h5.6v5.6h-5.6zM97.93,440.26h5.6v5.6h-5.6zM98.85,440.19h5.6v5.6h-5.6zM99.77,440.12h5.6v5.6h-5.6zM100.69,440.05h5.6v5.6h-5.6zM101.62,439.99h5.6v5.6h-5.6zM102.54,439.93h5.6v5.6h-5.6zM103.46,439.89h5.6v5.6h-5.6zM104.38,439.84h5.6v5.6h-5.6zM105.30,439.81h5.6v5.6h-5.6zM106.23,439.79h5.6v5.6h-5.6zM107.15,439.78h5.6v5.6h-5.6zM108.07,439.78h5.6v5.6h-5.6zM108.99,439.79h5.6v5.6h-5.6zM109.91,439.82h5.6v5.6h-5.6zM110.83,439.85h5.6v5.6h-5.6zM111.76,439.90h5.6v5.6h-5.6zM112.68,439.96h5.6v5.6h-5.6zM113.60,440.02h5.6v5.6h-5.6zM114.52,440.10h5.6v5.6h-5.6zM115.44,440.18h5.6v5.6h-5.6zM116.37,440.26h5.6v5.6h-5.6zM117.29,440.35h5.6v5.6h-5.6zM118.21,440.44h5.6v5.6h-5.6zM119.13,440.53h5.6v5.6h-5.6zM120.05,440.61h5.6v5.6h-5.6zM120.98,440.68h5.6v5.6h-5.6zM121.90,440.74h5.6v5.6h-5.6zM122.82,440.79h5.6v5.6h-5.6zM123.74,440.82h5.6v5.6h-5.6zM124.66,440.81h5.6v5.6h-5.6zM125.58,440.80h5.6v5.6h-5.6zM126.51,440.78h5.6v5.6h-5.6zM127.43,440.74h5.6v5.6h-5.6zM128.35,440.70h5.6v5.6h-5.6zM129.27,440.65h5.6v5.6h-5.6zM130.19,440.58h5.6v5.6h-5.6zM131.12,440.52h5.6v5.6h-5.6zM132.04,440.44h5.6v5.6h-5.6zM132.96,440.36h5.6v5.6h-5.6zM133.88,440.28h5.6v5.6h-5.6zM134.80,440.20h5.6v5.6h-5.6zM135.72,440.11h5.6v5.6h-5.6zM136.65,440.03h5.6v5.6h-5.6zM137.57,439.95h5.6v5.6h-5.6zM138.49,439.87h5.6v5.6h-5.6zM139.41,439.81h5.6v5.6h-5.6zM140.33,439.75h5.6v5.6h-5.6zM141.26,439.69h5.6v5.6h-5.6zM142.18,439.65h5.6v5.6h-5.6zM143.10,439.63h5.6v5.6h-5.6zM144.02,439.61h5.6v5.6h-5.6zM144.94,439.61h5.6v5.6h-5.6zM145.87,439.62h5.6v5.6h-5.6zM146.79,439.64h5.6v5.6h-5.6zM147.71,439.68h5.6v5.6h-5.6zM148.63,439.74h5.6v5.6h-5.6zM149.55,439.80h5.6v5.6h-5.6zM150.47,439.88h5.6v5.6h-5.6zM151.40,439.96h5.6v5.6h-5.6zM152.32,440.06h5.6v5.6h-5.6zM153.24,440.16h5.6v5.6h-5.6zM154.16,440.26h5.6v5.6h-5.6zM155.08,440.37h5.6v5.6h-5.6zM156.01,440.47h5.6v5.6h-5.6zM156.93,440.57h5.6v5.6h-5.6zM157.85,440.65h5.6v5.6h-5.6zM158.77,440.73h5.6v5.6h-5.6zM159.69,440.79h5.6v5.6h-5.6zM160.62,440.82h5.6v5.6h-5.6zM161.54,440.81h5.6v5.6h-5.6zM162.46,440.79h5.6v5.6h-5.6zM163.38,440.76h5.6v5.6h-5.6zM164.30,440.71h5.6v5.6h-5.6zM165.22,440.65h5.6v5.6h-5.6zM166.15,440.58h5.6v5.6h-5.6zM167.07,440.50h5.6v5.6h-5.6zM167.99,440.41h5.6v5.6h-5.6zM168.91,440.31h5.6v5.6h-5.6zM169.83,440.21h5.6v5.6h-5.6zM170.76,440.11h5.6v5.6h-5.6zM171.68,440.00h5.6v5.6h-5.6zM172.60,439.90h5.6v5.6h-5.6zM173.52,439.79h5.6v5.6h-5.6zM174.44,439.70h5.6v5.6h-5.6zM175.37,439.61h5.6v5.6h-5.6zM176.29,439.53h5.6v5.6h-5.6zM177.21,439.47h5.6v5.6h-5.6zM178.13,439.41h5.6v5.6h-5.6zM179.05,439.37h5.6v5.6h-5.6zM179.97,439.35h5.6v5.6h-5.6zM180.90,439.35h5.6v5.6h-5.6zM181.82,439.36h5.6v5.6h-5.6zM182.74,439.39h5.6v5.6h-5.6zM183.66,439.44h5.6v5.6h-5.6zM184.58,439.50h5.6v5.6h-5.6zM185.51,439.58h5.6v5.6h-5.6zM186.43,439.68h5.6v5.6h-5.6zM187.35,439.78h5.6v5.6h-5.6zM188.27,439.90h5.6v5.6h-5.6zM189.19,440.02h5.6v5.6h-5.6zM190.12,440.14h5.6v5.6h-5.6zM191.04,440.27h5.6v5.6h-5.6zM191.96,440.39h5.6v5.6h-5.6zM192.88,440.50h5.6v5.6h-5.6zM193.80,440.59h5.6v5.6h-5.6zM194.72,440.67h5.6v5.6h-5.6zM195.65,440.72h5.6v5.6h-5.6zM196.57,440.73h5.6v5.6h-5.6zM197.49,440.71h5.6v5.6h-5.6zM198.41,440.68h5.6v5.6h-5.6zM199.33,440.63h5.6v5.6h-5.6zM200.26,440.57h5.6v5.6h-5.6zM201.18,440.49h5.6v5.6h-5.6zM202.10,440.40h5.6v5.6h-5.6zM203.02,440.30h5.6v5.6h-5.6zM203.94,440.19h5.6v5.6h-5.6zM204.87,440.07h5.6v5.6h-5.6zM205.79,439.95h5.6v5.6h-5.6zM206.71,439.82h5.6v5.6h-5.6zM207.63,439.70h5.6v5.6h-5.6zM208.55,439.58h5.6v5.6h-5.6zM209.47,439.46h5.6v5.6h-5.6zM210.40,439.35h5.6v5.6h-5.6zM211.32,439.25h5.6v5.6h-5.6zM212.24,439.17h5.6v5.6h-5.6zM213.16,439.10h5.6v5.6h-5.6zM214.08,439.05h5.6v5.6h-5.6zM215.01,439.02h5.6v5.6h-5.6zM215.93,439.00h5.6v5.6h-5.6zM216.85,439.01h5.6v5.6h-5.6zM217.77,439.04h5.6v5.6h-5.6zM218.69,439.08h5.6v5.6h-5.6zM219.62,439.15h5.6v5.6h-5.6zM220.54,439.24h5.6v5.6h-5.6zM221.46,439.35h5.6v5.6h-5.6zM222.38,439.47h5.6v5.6h-5.6zM223.30,439.60h5.6v5.6h-5.6zM224.22,439.74h5.6v5.6h-5.6zM225.15,439.89h5.6v5.6h-5.6zM226.07,440.03h5.6v5.6h-5.6zM226.99,440.18h5.6v5.6h-5.6zM227.91,440.32h5.6v5.6h-5.6zM228.83,440.44h5.6v5.6h-5.6zM229.76,440.54h5.6v5.6h-5.6zM230.68,440.61h5.6v5.6h-5.6zM231.60,440.64h5.6v5.6h-5.6zM232.52,440.62h5.6v5.6h-5.6zM233.44,440.57h5.6v5.6h-5.6zM234.37,440.49h5.6v5.6h-5.6zM235.29,440.38h5.6v5.6h-5.6zM236.21,440.25h5.6v5.6h-5.6zM237.13,440.10h5.6v5.6h-5.6zM238.05,439.93h5.6v5.6h-5.6zM238.97,439.74h5.6v5.6h-5.6zM239.90,439.54h5.6v5.6h-5.6zM240.82,439.32h5.6v5.6h-5.6zM241.74,439.11h5.6v5.6h-5.6zM242.66,438.89h5.6v5.6h-5.6zM243.58,438.67h5.6v5.6h-5.6zM244.51,438.47h5.6v5.6h-5.6zM245.43,438.27h5.6v5.6h-5.6zM246.35,438.10h5.6v5.6h-5.6zM247.27,437.94h5.6v5.6h-5.6zM248.19,437.81h5.6v5.6h-5.6zM249.12,437.70h5.6v5.6h-5.6zM250.04,437.63h5.6v5.6h-5.6zM250.96,437.58h5.6v5.6h-5.6zM251.88,437.58h5.6v5.6h-5.6zM252.80,437.60h5.6v5.6h-5.6zM253.72,437.67h5.6v5.6h-5.6zM254.65,437.76h5.6v5.6h-5.6zM255.57,437.89h5.6v5.6h-5.6zM256.49,438.05h5.6v5.6h-5.6zM257.41,438.24h5.6v5.6h-5.6zM258.33,438.45h5.6v5.6h-5.6zM259.26,438.67h5.6v5.6h-5.6zM260.18,438.91h5.6v5.6h-5.6zM261.10,439.15h5.6v5.6h-5.6zM262.02,439.40h5.6v5.6h-5.6zM262.94,439.63h5.6v5.6h-5.6zM263.87,439.84h5.6v5.6h-5.6zM264.79,440.03h5.6v5.6h-5.6zM265.71,440.18h5.6v5.6h-5.6zM266.63,440.28h5.6v5.6h-5.6zM267.55,440.28h5.6v5.6h-5.6zM268.47,440.18h5.6v5.6h-5.6zM269.40,440.02h5.6v5.6h-5.6zM270.32,439.79h5.6v5.6h-5.6zM271.24,439.52h5.6v5.6h-5.6zM272.16,439.19h5.6v5.6h-5.6zM273.08,438.81h5.6v5.6h-5.6zM274.01,438.40h5.6v5.6h-5.6zM274.93,437.96h5.6v5.6h-5.6zM275.85,437.51h5.6v5.6h-5.6zM276.77,437.04h5.6v5.6h-5.6zM277.69,436.57h5.6v5.6h-5.6zM278.62,436.11h5.6v5.6h-5.6zM279.54,435.67h5.6v5.6h-5.6zM280.46,435.25h5.6v5.6h-5.6zM281.38,434.88h5.6v5.6h-5.6zM282.30,434.55h5.6v5.6h-5.6zM283.22,434.27h5.6v5.6h-5.6zM284.15,434.06h5.6v5.6h-5.6zM285.07,433.91h5.6v5.6h-5.6zM285.99,433.83h5.6v5.6h-5.6zM286.91,433.82h5.6v5.6h-5.6zM287.83,433.88h5.6v5.6h-5.6zM288.76,434.01h5.6v5.6h-5.6zM289.68,434.21h5.6v5.6h-5.6zM290.60,434.47h5.6v5.6h-5.6zM291.52,434.79h5.6v5.6h-5.6zM292.44,435.16h5.6v5.6h-5.6zM293.37,435.56h5.6v5.6h-5.6zM294.29,435.99h5.6v5.6h-5.6zM295.21,436.43h5.6v5.6h-5.6zM296.13,436.87h5.6v5.6h-5.6zM297.05,437.30h5.6v5.6h-5.6zM297.97,437.70h5.6v5.6h-5.6zM298.90,438.04h5.6v5.6h-5.6zM299.82,438.32h5.6v5.6h-5.6zM300.74,438.51h5.6v5.6h-5.6zM301.66,438.57h5.6v5.6h-5.6zM302.58,438.51h5.6v5.6h-5.6zM303.51,438.25h5.6v5.6h-5.6zM304.43,437.79h5.6v5.6h-5.6zM305.35,437.14h5.6v5.6h-5.6zM306.27,436.30h5.6v5.6h-5.6zM307.19,435.28h5.6v5.6h-5.6zM308.12,434.11h5.6v5.6h-5.6zM309.04,432.79h5.6v5.6h-5.6zM309.96,431.35h5.6v5.6h-5.6zM310.88,429.80h5.6v5.6h-5.6zM311.80,428.18h5.6v5.6h-5.6zM312.72,426.52h5.6v5.6h-5.6zM313.65,424.83h5.6v5.6h-5.6zM314.57,423.16h5.6v5.6h-5.6zM315.49,421.53h5.6v5.6h-5.6zM316.41,419.97h5.6v5.6h-5.6zM317.33,418.52h5.6v5.6h-5.6zM318.26,417.20h5.6v5.6h-5.6zM319.18,416.04h5.6v5.6h-5.6zM320.10,415.07h5.6v5.6h-5.6zM321.02,414.32h5.6v5.6h-5.6zM321.94,413.80h5.6v5.6h-5.6zM322.87,413.53h5.6v5.6h-5.6zM323.79,413.52h5.6v5.6h-5.6zM324.71,413.79h5.6v5.6h-5.6zM325.63,414.33h5.6v5.6h-5.6zM326.55,415.15h5.6v5.6h-5.6zM327.48,416.23h5.6v5.6h-5.6zM328.40,417.57h5.6v5.6h-5.6zM329.32,419.13h5.6v5.6h-5.6zM330.24,420.91h5.6v5.6h-5.6zM331.16,422.85h5.6v5.6h-5.6zM332.08,424.93h5.6v5.6h-5.6zM333.01,427.11h5.6v5.6h-5.6zM333.93,429.32h5.6v5.6h-5.6zM334.85,431.52h5.6v5.6h-5.6zM335.77,433.64h5.6v5.6h-5.6zM336.69,435.61h5.6v5.6h-5.6zM337.62,437.37h5.6v5.6h-5.6zM338.54,438.83h5.6v5.6h-5.6zM339.46,439.87h5.6v5.6h-5.6zM340.38,440.31h5.6v5.6h-5.6zM341.30,440.01h5.6v5.6h-5.6zM342.23,439.04h5.6v5.6h-5.6zM343.15,437.30h5.6v5.6h-5.6zM344.07,434.72h5.6v5.6h-5.6zM344.99,431.22h5.6v5.6h-5.6zM345.91,426.73h5.6v5.6h-5.6zM346.83,421.21h5.6v5.6h-5.6zM347.76,414.59h5.6v5.6h-5.6zM348.68,406.86h5.6v5.6h-5.6zM349.60,398.00h5.6v5.6h-5.6zM350.52,388.00h5.6v5.6h-5.6zM351.44,376.89h5.6v5.6h-5.6zM352.37,364.68h5.6v5.6h-5.6zM353.29,351.43h5.6v5.6h-5.6zM354.21,337.20h5.6v5.6h-5.6zM355.13,322.07h5.6v5.6h-5.6zM356.05,306.14h5.6v5.6h-5.6zM356.98,289.53h5.6v5.6h-5.6zM357.90,272.34h5.6v5.6h-5.6zM358.82,254.73h5.6v5.6h-5.6zM359.74,236.85h5.6v5.6h-5.6zM360.66,218.84h5.6v5.6h-5.6zM361.58,200.89h5.6v5.6h-5.6zM362.51,183.15h5.6v5.6h-5.6zM363.43,165.80h5.6v5.6h-5.6zM364.35,149.02h5.6v5.6h-5.6zM365.27,132.97h5.6v5.6h-5.6zM366.19,117.83h5.6v5.6h-5.6zM367.12,103.75h5.6v5.6h-5.6zM368.04,90.89h5.6v5.6h-5.6zM368.96,79.38h5.6v5.6h-5.6zM369.88,69.35h5.6v5.6h-5.6zM370.80,60.92h5.6v5.6h-5.6zM371.72,54.18h5.6v5.6h-5.6zM372.65,49.20h5.6v5.6h-5.6zM373.57,46.03h5.6v5.6h-5.6zM374.49,44.72h5.6v5.6h-5.6zM375.41,45.23h5.6v5.6h-5.6zM376.33,47.43h5.6v5.6h-5.6zM377.26,51.30h5.6v5.6h-5.6zM378.18,56.79h5.6v5.6h-5.6zM379.10,63.86h5.6v5.6h-5.6zM380.02,72.43h5.6v5.6h-5.6zM380.94,82.41h5.6v5.6h-5.6zM381.87,93.71h5.6v5.6h-5.6zM382.79,106.21h5.6v5.6h-5.6zM383.71,119.79h5.6v5.6h-5.6zM384.63,134.31h5.6v5.6h-5.6zM385.55,149.64h5.6v5.6h-5.6zM386.48,165.64h5.6v5.6h-5.6zM387.40,182.14h5.6v5.6h-5.6zM388.32,199.02h5.6v5.6h-5.6zM389.24,216.10h5.6v5.6h-5.6zM390.16,233.25h5.6v5.6h-5.6zM391.08,250.33h5.6v5.6h-5.6zM392.01,267.18h5.6v5.6h-5.6zM392.93,283.69h5.6v5.6h-5.6zM393.85,299.73h5.6v5.6h-5.6zM394.77,315.19h5.6v5.6h-5.6zM395.69,329.96h5.6v5.6h-5.6zM396.62,343.96h5.6v5.6h-5.6zM397.54,357.10h5.6v5.6h-5.6zM398.46,369.34h5.6v5.6h-5.6zM399.38,380.61h5.6v5.6h-5.6zM400.30,390.88h5.6v5.6h-5.6zM401.23,400.13h5.6v5.6h-5.6zM402.15,408.35h5.6v5.6h-5.6zM403.07,415.54h5.6v5.6h-5.6zM403.99,421.72h5.6v5.6h-5.6zM404.91,426.92h5.6v5.6h-5.6zM405.83,431.18h5.6v5.6h-5.6zM406.76,434.55h5.6v5.6h-5.6zM407.68,437.07h5.6v5.6h-5.6zM408.60,438.83h5.6v5.6h-5.6zM409.52,439.87h5.6v5.6h-5.6zM410.44,440.29h5.6v5.6h-5.6zM411.37,440.14h5.6v5.6h-5.6zM412.29,439.58h5.6v5.6h-5.6zM413.21,438.76h5.6v5.6h-5.6zM414.13,437.77h5.6v5.6h-5.6zM415.05,436.67h5.6v5.6h-5.6zM415.98,435.52h5.6v5.6h-5.6zM416.90,434.35h5.6v5.6h-5.6zM417.82,433.21h5.6v5.6h-5.6zM418.74,432.15h5.6v5.6h-5.6zM419.66,431.17h5.6v5.6h-5.6zM420.58,430.33h5.6v5.6h-5.6zM421.51,429.62h5.6v5.6h-5.6zM422.43,429.07h5.6v5.6h-5.6zM423.35,428.68h5.6v5.6h-5.6zM424.27,428.46h5.6v5.6h-5.6zM425.19,428.41h5.6v5.6h-5.6zM426.12,428.52h5.6v5.6h-5.6zM427.04,428.78h5.6v5.6h-5.6zM427.96,429.17h5.6v5.6h-5.6zM428.88,429.68h5.6v5.6h-5.6zM429.80,430.30h5.6v5.6h-5.6zM430.73,430.99h5.6v5.6h-5.6zM431.65,431.75h5.6v5.6h-5.6zM432.57,432.54h5.6v5.6h-5.6zM433.49,433.35h5.6v5.6h-5.6zM434.41,434.15h5.6v5.6h-5.6zM435.33,434.92h5.6v5.6h-5.6zM436.26,435.66h5.6v5.6h-5.6zM437.18,436.32h5.6v5.6h-5.6zM438.10,436.92h5.6v5.6h-5.6zM439.02,437.42h5.6v5.6h-5.6zM439.94,437.82h5.6v5.6h-5.6zM440.87,438.11h5.6v5.6h-5.6zM441.79,438.30h5.6v5.6h-5.6zM442.71,438.37h5.6v5.6h-5.6zM443.63,438.36h5.6v5.6h-5.6zM444.55,438.30h5.6v5.6h-5.6zM445.48,438.19h5.6v5.6h-5.6zM446.40,438.02h5.6v5.6h-5.6zM447.32,437.81h5.6v5.6h-5.6zM448.24,437.58h5.6v5.6h-5.6zM449.16,437.33h5.6v5.6h-5.6zM450.08,437.06h5.6v5.6h-5.6zM451.01,436.80h5.6v5.6h-5.6zM451.93,436.54h5.6v5.6h-5.6zM452.85,436.29h5.6v5.6h-5.6zM453.77,436.07h5.6v5.6h-5.6zM454.69,435.88h5.6v5.6h-5.6zM455.62,435.71h5.6v5.6h-5.6zM456.54,435.59h5.6v5.6h-5.6zM457.46,435.50h5.6v5.6h-5.6zM458.38,435.46h5.6v5.6h-5.6zM459.30,435.46h5.6v5.6h-5.6zM460.23,435.51h5.6v5.6h-5.6zM461.15,435.60h5.6v5.6h-5.6zM462.07,435.73h5.6v5.6h-5.6zM462.99,435.91h5.6v5.6h-5.6zM463.91,436.11h5.6v5.6h-5.6zM464.83,436.36h5.6v5.6h-5.6zM465.76,436.62h5.6v5.6h-5.6zM466.68,436.91h5.6v5.6h-5.6zM467.60,437.22h5.6v5.6h-5.6zM468.52,437.53h5.6v5.6h-5.6zM469.44,437.85h5.6v5.6h-5.6zM470.37,438.17h5.6v5.6h-5.6zM471.29,438.48h5.6v5.6h-5.6zM472.21,438.78h5.6v5.6h-5.6zM473.13,439.05h5.6v5.6h-5.6zM474.05,439.30h5.6v5.6h-5.6zM474.98,439.52h5.6v5.6h-5.6zM475.90,439.71h5.6v5.6h-5.6zM476.82,439.86h5.6v5.6h-5.6zM477.74,439.97h5.6v5.6h-5.6zM478.66,440.04h5.6v5.6h-5.6zM479.58,440.03h5.6v5.6h-5.6zM480.51,439.98h5.6v5.6h-5.6zM481.43,439.91h5.6v5.6h-5.6zM482.35,439.82h5.6v5.6h-5.6zM483.27,439.71h5.6v5.6h-5.6zM484.19,439.60h5.6v5.6h-5.6zM485.12,439.48h5.6v5.6h-5.6zM486.04,439.36h5.6v5.6h-5.6zM486.96,439.24h5.6v5.6h-5.6zM487.88,439.13h5.6v5.6h-5.6zM488.80,439.03h5.6v5.6h-5.6zM489.72,438.95h5.6v5.6h-5.6zM490.65,438.88h5.6v5.6h-5.6zM491.57,438.83h5.6v5.6h-5.6zM492.49,438.80h5.6v5.6h-5.6zM493.41,438.79h5.6v5.6h-5.6zM494.33,438.80h5.6v5.6h-5.6zM495.26,438.83h5.6v5.6h-5.6zM496.18,438.88h5.6v5.6h-5.6zM497.10,438.94h5.6v5.6h-5.6zM498.02,439.03h5.6v5.6h-5.6zM498.94,439.13h5.6v5.6h-5.6zM499.87,439.24h5.6v5.6h-5.6zM500.79,439.37h5.6v5.6h-5.6zM501.71,439.50h5.6v5.6h-5.6zM502.63,439.63h5.6v5.6h-5.6zM503.55,439.77h5.6v5.6h-5.6zM504.48,439.91h5.6v5.6h-5.6zM505.40,440.04h5.6v5.6h-5.6zM506.32,440.16h5.6v5.6h-5.6zM507.24,440.28h5.6v5.6h-5.6zM508.16,440.38h5.6v5.6h-5.6zM509.08,440.47h5.6v5.6h-5.6zM510.01,440.54h5.6v5.6h-5.6zM510.93,440.60h5.6v5.6h-5.6zM511.85,440.63h5.6v5.6h-5.6zM512.77,440.64h5.6v5.6h-5.6zM513.69,440.60h5.6v5.6h-5.6zM514.62,440.54h5.6v5.6h-5.6zM515.54,440.47h5.6v5.6h-5.6zM516.46,440.38h5.6v5.6h-5.6zM517.38,440.28h5.6v5.6h-5.6zM518.30,440.18h5.6v5.6h-5.6zM519.23,440.08h5.6v5.6h-5.6zM520.15,439.98h5.6v5.6h-5.6zM521.07,439.88h5.6v5.6h-5.6zM521.99,439.79h5.6v5.6h-5.6zM522.91,439.72h5.6v5.6h-5.6zM523.83,439.65h5.6v5.6h-5.6zM524.76,439.60h5.6v5.6h-5.6zM525.68,439.56h5.6v5.6h-5.6zM526.60,439.53h5.6v5.6h-5.6zM527.52,439.52h5.6v5.6h-5.6zM528.44,439.52h5.6v5.6h-5.6zM529.37,439.54h5.6v5.6h-5.6zM530.29,439.57h5.6v5.6h-5.6zM531.21,439.62h5.6v5.6h-5.6zM532.13,439.67h5.6v5.6h-5.6zM533.05,439.74h5.6v5.6h-5.6zM533.98,439.81h5.6v5.6h-5.6zM534.90,439.89h5.6v5.6h-5.6zM535.82,439.97h5.6v5.6h-5.6zM536.74,440.06h5.6v5.6h-5.6zM537.66,440.15h5.6v5.6h-5.6zM538.58,440.23h5.6v5.6h-5.6zM539.51,440.32h5.6v5.6h-5.6zM540.43,440.40h5.6v5.6h-5.6zM541.35,440.47h5.6v5.6h-5.6zM542.27,440.54h5.6v5.6h-5.6zM543.19,440.60h5.6v5.6h-5.6zM544.12,440.65h5.6v5.6h-5.6zM545.04,440.68h5.6v5.6h-5.6zM545.96,440.71h5.6v5.6h-5.6zM546.88,440.73h5.6v5.6h-5.6zM547.80,440.73h5.6v5.6h-5.6zM548.72,440.70h5.6v5.6h-5.6zM549.65,440.65h5.6v5.6h-5.6zM550.57,440.59h5.6v5.6h-5.6zM551.49,440.52h5.6v5.6h-5.6zM552.41,440.43h5.6v5.6h-5.6zM553.33,440.35h5.6v5.6h-5.6zM554.26,440.26h5.6v5.6h-5.6zM555.18,440.18h5.6v5.6h-5.6zM556.10,440.10h5.6v5.6h-5.6zM557.02,440.02h5.6v5.6h-5.6zM557.94,439.96h5.6v5.6h-5.6zM558.87,439.90h5.6v5.6h-5.6zM559.79,439.85h5.6v5.6h-5.6zM560.71,439.82h5.6v5.6h-5.6zM561.63,439.79h5.6v5.6h-5.6zM562.55,439.78h5.6v5.6h-5.6zM563.47,439.78h5.6v5.6h-5.6zM564.40,439.80h5.6v5.6h-5.6zM565.32,439.82h5.6v5.6h-5.6zM566.24,439.86h5.6v5.6h-5.6zM567.16,439.90h5.6v5.6h-5.6zM568.08,439.96h5.6v5.6h-5.6zM569.01,440.02h5.6v5.6h-5.6zM569.93,440.09h5.6v5.6h-5.6zM570.85,440.16h5.6v5.6h-5.6zM571.77,440.23h5.6v5.6h-5.6zM572.69,440.31h5.6v5.6h-5.6zM573.62,440.38h5.6v5.6h-5.6zM574.54,440.45h5.6v5.6h-5.6zM575.46,440.52h5.6v5.6h-5.6zM576.38,440.59h5.6v5.6h-5.6zM577.30,440.64h5.6v5.6h-5.6zM578.23,440.70h5.6v5.6h-5.6zM579.15,440.74h5.6v5.6h-5.6zM580.07,440.77h5.6v5.6h-5.6zM580.99,440.80h5.6v5.6h-5.6zM581.91,440.81h5.6v5.6h-5.6zM582.83,440.82h5.6v5.6h-5.6zM583.76,440.79h5.6v5.6h-5.6zM584.68,440.75h5.6v5.6h-5.6zM585.60,440.69h5.6v5.6h-5.6zM586.52,440.62h5.6v5.6h-5.6zM587.44,440.55h5.6v5.6h-5.6zM588.37,440.47h5.6v5.6h-5.6zM589.29,440.39h5.6v5.6h-5.6zM590.21,440.32h5.6v5.6h-5.6zM591.13,440.24h5.6v5.6h-5.6zM592.05,440.18h5.6v5.6h-5.6zM592.98,440.12h5.6v5.6h-5.6zM593.90,440.06h5.6v5.6h-5.6zM594.82,440.02h5.6v5.6h-5.6zM595.74,439.99h5.6v5.6h-5.6zM596.66,439.97h5.6v5.6h-5.6zM597.58,439.95h5.6v5.6h-5.6zM598.51,439.95h5.6v5.6h-5.6zM599.43,439.96h5.6v5.6h-5.6zM600.35,439.99h5.6v5.6h-5.6zM601.27,440.02h5.6v5.6h-5.6zM602.19,440.05h5.6v5.6h-5.6zM603.12,440.10h5.6v5.6h-5.6zM604.04,440.15h5.6v5.6h-5.6zM604.96,440.21h5.6v5.6h-5.6zM605.88,440.27h5.6v5.6h-5.6zM606.80,440.33h5.6v5.6h-5.6zM607.73,440.39h5.6v5.6h-5.6zM608.65,440.46h5.6v5.6h-5.6zM609.57,440.52h5.6v5.6h-5.6zM610.49,440.57h5.6v5.6h-5.6zM611.41,440.63h5.6v5.6h-5.6zM612.33,440.68h5.6v5.6h-5.6zM613.26,440.72h5.6v5.6h-5.6zM614.18,440.75h5.6v5.6h-5.6zM615.10,440.78h5.6v5.6h-5.6zM616.02,440.80h5.6v5.6h-5.6zM616.94,440.81h5.6v5.6h-5.6zM617.87,440.82h5.6v5.6h-5.6zM618.79,440.80h5.6v5.6h-5.6zM619.71,440.77h5.6v5.6h-5.6zM620.63,440.72h5.6v5.6h-5.6zM621.55,440.67h5.6v5.6h-5.6zM622.48,440.61h5.6v5.6h-5.6zM623.40,440.55h5.6v5.6h-5.6zM624.32,440.49h5.6v5.6h-5.6zM625.24,440.43h5.6v5.6h-5.6zM626.16,440.37h5.6v5.6h-5.6zM627.08,440.31h5.6v5.6h-5.6zM628.01,440.26h5.6v5.6h-5.6zM628.93,440.22h5.6v5.6h-5.6zM629.85,440.18h5.6v5.6h-5.6zM630.77,440.16h5.6v5.6h-5.6zM631.69,440.14h5.6v5.6h-5.6zM632.62,440.13h5.6v5.6h-5.6zM633.54,440.13h5.6v5.6h-5.6zM634.46,440.13h5.6v5.6h-5.6zM635.38,440.15h5.6v5.6h-5.6zM636.30,440.17h5.6v5.6h-5.6zM637.23,440.20h5.6v5.6h-5.6zM638.15,440.24h5.6v5.6h-5.6zM639.07,440.28h5.6v5.6h-5.6zM639.99,440.32h5.6v5.6h-5.6zM640.91,440.37h5.6v5.6h-5.6zM641.83,440.42h5.6v5.6h-5.6zM642.76,440.47h5.6v5.6h-5.6zM643.68,440.52h5.6v5.6h-5.6zM644.60,440.57h5.6v5.6h-5.6zM645.52,440.62h5.6v5.6h-5.6zM646.44,440.66h5.6v5.6h-5.6zM647.37,440.70h5.6v5.6h-5.6zM648.29,440.73h5.6v5.6h-5.6zM649.21,440.76h5.6v5.6h-5.6zM650.13,440.79h5.6v5.6h-5.6zM651.05,440.80h5.6v5.6h-5.6zM651.98,440.81h5.6v5.6h-5.6zM652.90,440.82h5.6v5.6h-5.6zM653.82,440.81h5.6v5.6h-5.6zM654.74,440.78h5.6v5.6h-5.6zM655.66,440.75h5.6v5.6h-5.6zM656.58,440.71h5.6v5.6h-5.6zM657.51,440.67h5.6v5.6h-5.6zM658.43,440.62h5.6v5.6h-5.6zM659.35,440.57h5.6v5.6h-5.6zM660.27,440.53h5.6v5.6h-5.6zM661.19,440.48h5.6v5.6h-5.6zM662.12,440.44h5.6v5.6h-5.6zM663.04,440.40h5.6v5.6h-5.6zM663.96,440.37h5.6v5.6h-5.6zM664.88,440.34h5.6v5.6h-5.6zM665.80,440.32h5.6v5.6h-5.6zM666.73,440.31h5.6v5.6h-5.6zM667.65,440.30h5.6v5.6h-5.6zM668.57,440.30h5.6v5.6h-5.6z" fill="#008000"/>
</g>
<!-- frame -->
<rect x="81.0" y="11.1" width="590.0" height="475.59999999999997" fill="none" stroke="#000" stroke-width="1.7"/>
<path d="M81.00,486.70v9.0M130.17,486.70v4.6M179.33,486.70v9.0M228.50,486.70v4.6M277.67,486.70v9.0M326.83,486.70v4.6M376.00,486.70v9.0M425.17,486.70v4.6M474.33,486.70v9.0M523.50,486.70v4.6M572.67,486.70v9.0M621.83,486.70v4.6M671.00,486.70v9.0M81.00,486.70h-5.0M81.00,443.46h-9.8M81.00,400.23h-5.0M81.00,356.99h-9.8M81.00,313.75h-5.0M81.00,270.52h-9.8M81.00,227.28h-5.0M81.00,184.05h-9.8M81.00,140.81h-5.0M81.00,97.57h-9.8M81.00,54.34h-5.0M81.00,11.10h-9.8" fill="none" stroke="#000" stroke-width="1.7"/>
<g class="tx" font-size="20.5"><text transform="translate(81.00,518.4) scale(1,1.05)" text-anchor="middle">-0.6</text><text transform="translate(179.33,518.4) scale(1,1.05)" text-anchor="middle">-0.4</text><text transform="translate(277.67,518.4) scale(1,1.05)" text-anchor="middle">-0.2</text><text transform="translate(376.00,518.4) scale(1,1.05)" text-anchor="middle">0.0</text><text transform="translate(474.33,518.4) scale(1,1.05)" text-anchor="middle">0.2</text><text transform="translate(572.67,518.4) scale(1,1.05)" text-anchor="middle">0.4</text><text transform="translate(671.00,518.4) scale(1,1.05)" text-anchor="middle">0.6</text><text transform="translate(65.3,449.96) scale(1,1.05)" text-anchor="end">0</text><text transform="translate(65.3,363.49) scale(1,1.05)" text-anchor="end">20</text><text transform="translate(65.3,277.02) scale(1,1.05)" text-anchor="end">40</text><text transform="translate(65.3,190.55) scale(1,1.05)" text-anchor="end">60</text><text transform="translate(65.3,104.07) scale(1,1.05)" text-anchor="end">80</text><text transform="translate(65.3,17.60) scale(1,1.05)" text-anchor="end">100</text></g>
<!-- legend -->
<rect x="89.5" y="18.5" width="244" height="69" fill="#fff" stroke="#6e6e6e" stroke-width="1"/>
<path d="M89.9,28.15H131.3A2.25,2.25 0 0 1 131.3,32.65H89.9z" fill="#0000ff"/>
<g fill="#ff0000"><circle cx="91.4" cy="52.5" r="2.2"/><circle cx="100.5" cy="52.5" r="2.2"/><circle cx="109.6" cy="52.5" r="2.2"/><circle cx="118.75" cy="52.5" r="2.2"/><circle cx="127.9" cy="52.5" r="2.2"/></g>
<line x1="90.3" y1="74.5" x2="131.7" y2="74.5" stroke="#008000" stroke-width="2.2"/>
<rect x="108.4" y="71.7" width="5.6" height="5.6" fill="#008000"/>
<g class="tx" font-size="17.85" style="white-space:pre">
<text x="141.6" y="36.6" xml:space="preserve">Only VKB   @235.0 mm</text>
<text x="136.4" y="59.0" xml:space="preserve">VKB+AXL1 @239.0 mm</text>
<text x="136.4" y="81.1" xml:space="preserve">VKB+AXL1 @239.4 mm</text>
</g>
<!-- titles -->
<g class="tx">
<text x="240.4" y="558.6" font-size="24.75">Transverse position [</text>
<text x="483.9" y="558.6" font-size="24.75">m]</text>
<g fill="none" stroke="#000" stroke-width="1.55" stroke-linecap="round" stroke-linejoin="round">
<path d="M472.9,547.7 L472.6,557 C472.6,560 472.3,562 471.9,563.4"/>
<path d="M472.7,555 C473,558 475,558.9 476.8,558.7 C479,558.5 480.8,557 481.3,555" stroke-width="1.8"/>
<path d="M481.4,547.7 L481.4,555.5 C481.4,557.5 482.2,558.1 483.4,557.4"/>
</g>
<text transform="translate(21,249.2) rotate(-90)" font-size="24.75" text-anchor="middle">Intensity [arb.units]</text>
</g>
</svg>
</body></html>
